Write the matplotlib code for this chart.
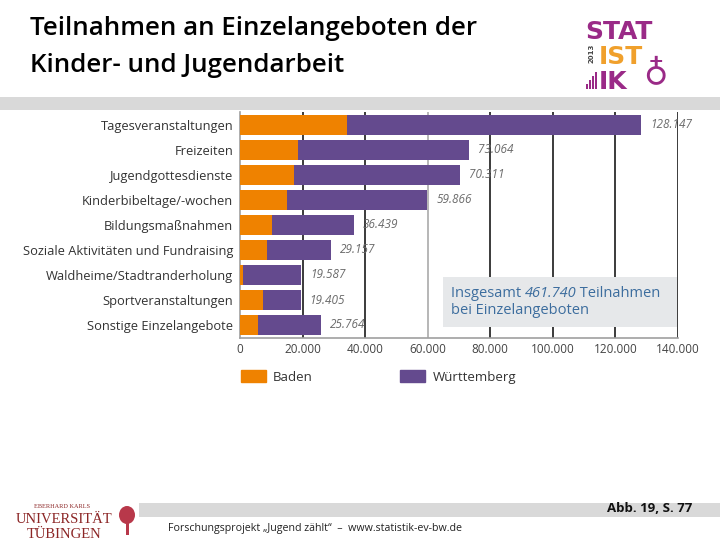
import numpy as np
import matplotlib
matplotlib.use("Agg")
import matplotlib.pyplot as plt
from matplotlib.patches import Rectangle, Ellipse

# ------- data -------
categories = ["Tagesveranstaltungen", "Freizeiten", "Jugendgottesdienste",
              "Kinderbibeltage/-wochen", "Bildungsmaßnahmen",
              "Soziale Aktivitäten und Fundraising", "Waldheime/Stadtranderholung",
              "Sportveranstaltungen", "Sonstige Einzelangebote"]
totals = [128147, 73064, 70311, 59866, 36439, 29157, 19587, 19405, 25764]
baden = [34300, 18500, 17300, 14900, 10100, 8500, 1100, 7400, 5800]
wuerttemberg = [t - b for t, b in zip(totals, baden)]
xticks = [0, 20000, 40000, 60000, 80000, 100000, 120000, 140000]

ORANGE = "#ef8200"
PURPLE = "#644a8e"
W, H = 720, 540

plt.rcParams['font.family'] = ['Open Sans', 'DejaVu Sans']


def fx(x):
    return x / W


def fy(y):
    return 1 - y / H


def de(v):
    return f"{v:,}".replace(",", ".")


fig = plt.figure(figsize=(7.2, 5.4), dpi=100)
fig.patch.set_facecolor("white")

# ------- header -------
fig.text(fx(30), fy(35), "Teilnahmen an Einzelangeboten der", fontsize=18.6,
         fontweight="semibold", color="black", va="baseline")
fig.text(fx(30), fy(72), "Kinder- und Jugendarbeit", fontsize=18.6,
         fontweight="semibold", color="black", va="baseline")
fig.patches.append(Rectangle((0, fy(110)), 1, 13 / H, transform=fig.transFigure,
                             facecolor="#d9d9d9", edgecolor="none"))

# STATISTIK logo
LOGO_P = "#9a2a87"
LOGO_O = "#f0a02c"
logo_kw = dict(fontsize=18, fontweight="heavy", family="DejaVu Sans",
               va="baseline")
fig.text(fx(585), fy(39), "STAT", color=LOGO_P, **logo_kw)
fig.text(fx(599), fy(64), "IST", color=LOGO_O, **logo_kw)
fig.text(fx(599), fy(89), "IK", color=LOGO_P, **logo_kw)
fig.text(fx(592), fy(53), "2013", rotation=90, fontsize=5, fontweight="bold",
         color="#444444", ha="center", va="center", family="DejaVu Sans")
for i, hh in enumerate([5, 9, 13, 17]):
    fig.patches.append(Rectangle((fx(586 + i * 3), fy(89)), 1.6 / W, hh / H,
                                 transform=fig.transFigure, facecolor=LOGO_P,
                                 edgecolor="none"))
fig.text(fx(655), fy(75), "\u2641", fontsize=24, color=LOGO_P, ha="center",
         va="center", family="DejaVu Sans")

# ------- bar chart -------
ax = fig.add_axes([fx(240), fy(337.5), 438 / W, 225 / H])
y = np.arange(len(categories))
ax.barh(y, baden, height=0.8, color=ORANGE, zorder=3)
ax.barh(y, wuerttemberg, left=baden, height=0.8, color=PURPLE, zorder=3)

for xt in xticks[1:]:
    ax.axvline(xt, color="#aaaaaa" if xt == 60000 else "#1a1a1a",
               lw=1.2, zorder=1)

for yi, t in zip(y, totals):
    ax.annotate(de(t), (t, yi), xytext=(6.5, 0), textcoords="offset points",
                ha="left", va="center", fontsize=8.5, style="italic",
                color="#6a6a6a")

ax.set_xlim(0, 140000)
ax.set_ylim(len(categories) - 0.5, -0.5)
ax.set_yticks(y)
ax.set_yticklabels(categories, fontsize=9.3, color="#333333")
ax.set_xticks(xticks)
ax.set_xticklabels([de(v) for v in xticks], fontsize=8.5, color="#444444")
ax.tick_params(axis="both", length=0)
ax.tick_params(axis="y", pad=5)
ax.tick_params(axis="x", pad=4)
for s in ["top", "right"]:
    ax.spines[s].set_visible(False)
for s in ["left", "bottom"]:
    ax.spines[s].set_color("#a0a0a0")
    ax.spines[s].set_linewidth(1.2)
ax.set_facecolor("none")

# summary box
fig.patches.append(Rectangle((fx(443), fy(327)), 234 / W, 50 / H,
                             transform=fig.transFigure, facecolor="#e6e8ea",
                             edgecolor="none", zorder=5))
renderer = fig.canvas.get_renderer()
BLUE = "#3c6d9e"
box_kw = dict(fontsize=10.5, color=BLUE, va="baseline", zorder=6)
x0 = fx(451)
for txt, st in [("Insgesamt ", "normal"), ("461.740", "italic"),
                (" Teilnahmen", "normal")]:
    t = fig.text(x0, fy(297), txt, style=st, **box_kw)
    bb = t.get_window_extent(renderer)
    x0 = fig.transFigure.inverted().transform((bb.x1, 0))[0]
fig.text(fx(451), fy(314), "bei Einzelangeboten", **box_kw)

# legend
handles = [Rectangle((0, 0), 1, 1, color=ORANGE), Rectangle((0, 0), 1, 1, color=PURPLE)]
fig.legend(handles, ["Baden", "Württemberg"], loc="center left",
           bbox_to_anchor=(fx(229), fy(377)), ncol=2, frameon=False,
           fontsize=9.5, handlelength=1.9, handleheight=0.95, handletextpad=0.55,
           columnspacing=6.6, labelcolor="#333333")

# ------- footer -------
fig.patches.append(Rectangle((fx(139), fy(517)), 1 - fx(139), 14 / H,
                             transform=fig.transFigure, facecolor="#d9d9d9",
                             edgecolor="none"))
fig.text(fx(692), fy(512), "Abb. 19, S. 77", fontsize=9.5, fontweight="bold",
         ha="right", va="baseline", color="#111111")
fig.text(fx(168), fy(531), "Forschungsprojekt \u201eJugend zählt\u201c  \u2013  www.statistik-ev-bw.de",
         fontsize=7.7, va="baseline", color="#222222")

# Tübingen logo
RED = "#8c2626"
fig.text(fx(62), fy(508), "EBERHARD KARLS", fontsize=4.5, family="Liberation Serif",
         color=RED, ha="center", va="baseline")
fig.text(fx(64), fy(523), "UNIVERSITÄT", fontsize=10.5, family="Liberation Serif",
         color=RED, ha="center", va="baseline")
fig.text(fx(64), fy(538), "TÜBINGEN", fontsize=10.5, family="Liberation Serif",
         color=RED, ha="center", va="baseline")
fig.patches.append(Ellipse((fx(127), fy(515)), 16 / W, 18 / H,
                           transform=fig.transFigure, facecolor="#b8384a",
                           edgecolor="none"))
fig.patches.append(Rectangle((fx(125.5), fy(535)), 3 / W, 14 / H,
                             transform=fig.transFigure, facecolor="#b8384a",
                             edgecolor="none"))

fig.savefig("out.png", dpi=100)
